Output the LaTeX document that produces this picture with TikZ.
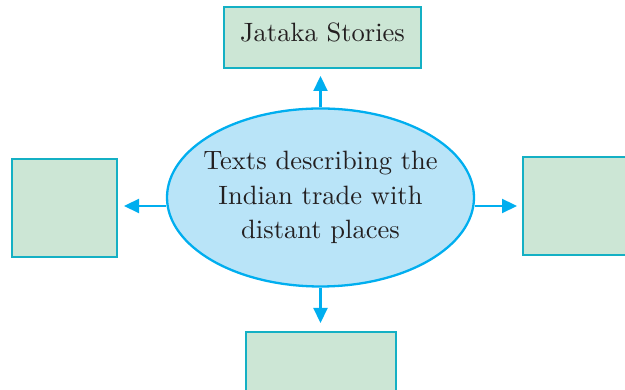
\documentclass[tikz,border=0pt]{standalone}
\usepackage{fontspec}
\setmainfont{lmroman10-regular}[Extension=.otf]
\usetikzlibrary{arrows.meta,shapes.geometric}
\definecolor{boxfill}{HTML}{CCE6D5}
\definecolor{boxline}{HTML}{14B0C4}
\definecolor{ellfill}{HTML}{B9E4F8}
\definecolor{ellline}{HTML}{00AEEF}
\definecolor{txt}{HTML}{231F20}
\tikzset{
  greenbox/.style={draw=boxline, fill=boxfill, line width=2.3pt, inner sep=0pt},
  conn/.style={draw=ellline, line width=2.2pt, -{Triangle[length=15pt,width=14pt]}, shorten >=0pt},
}
\begin{document}
\begin{tikzpicture}[x=1pt,y=1pt]
\useasboundingbox (0,0) rectangle (625,390);
\clip (0,0) rectangle (625,390);
% ellipse
\node[ellipse, draw=ellline, fill=ellfill, line width=2.3pt, minimum width=307pt, minimum height=178pt, inner sep=0pt] (center) at (320.5,192.5) {};
\node[align=center, text=txt, font=\fontsize{26.5}{34.5}\selectfont] (centertext) at (center.center)
  {Texts describing the\\Indian trade with\\distant places};
% boxes
\node[greenbox, minimum width=197pt, minimum height=61pt, text=txt, text height=18pt, text depth=9pt,
      font=\fontsize{26.5}{30}\selectfont] (top) at (322.5,352.5) {Jataka Stories};
\node[greenbox, minimum width=105pt, minimum height=98pt] (left) at (64.5,182) {};
\node[greenbox, minimum width=110pt, minimum height=98pt] (right) at (578,184) {};
\node[greenbox, minimum width=150pt, minimum height=70pt] (bottom) at (321,23) {};
% connectors
\coordinate (ttip) at (320.5,314);
\coordinate (ltip) at (124,184);
\coordinate (rtip) at (517,184);
\coordinate (btip) at (320.5,67);
\draw[conn] (center.north) -- (ttip);
\draw[conn] (center.west |- ltip) -- (ltip);
\draw[conn] (center.east |- rtip) -- (rtip);
\draw[conn] (center.south) -- (btip);
\end{tikzpicture}
\end{document}
